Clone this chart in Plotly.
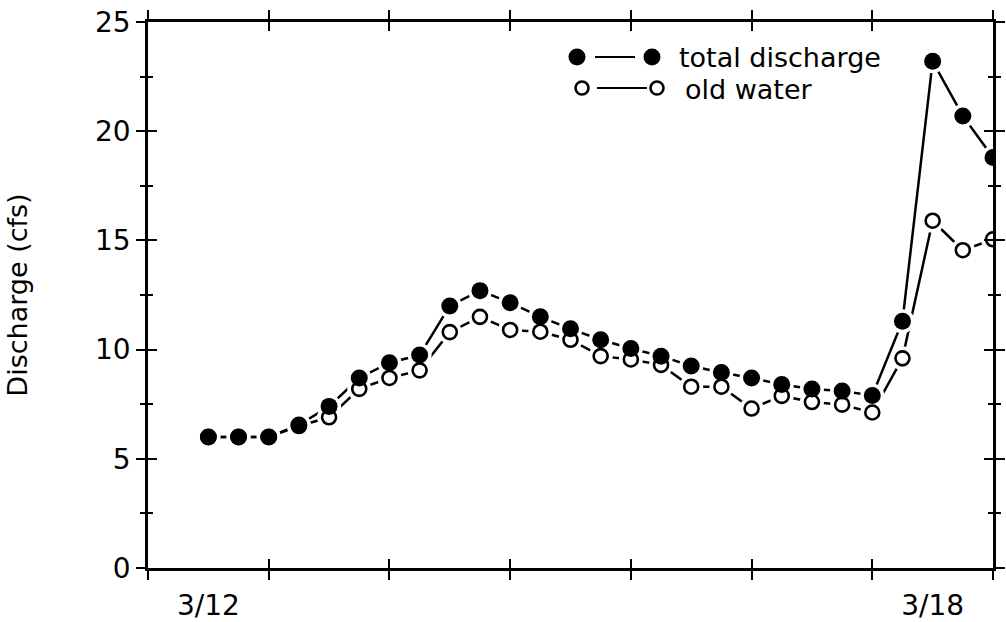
import plotly.graph_objects as go

# hours since 3/12 00:00 (samples every 6 h)
hours = [12, 18, 24, 30, 36, 42, 48, 54, 60, 66, 72, 78, 84, 90, 96, 102, 108,
         114, 120, 126, 132, 138, 144, 150, 156, 162, 168]
total_discharge = [6.0, 6.0, 6.0, 6.55, 7.4, 8.7, 9.4, 9.75, 12.0, 12.7, 12.15,
                   11.5, 10.95, 10.45, 10.05, 9.7, 9.25, 8.95, 8.7, 8.4, 8.2,
                   8.1, 7.9, 11.3, 23.2, 20.7, 18.8]
old_water = [6.0, 6.0, 6.0, 6.5, 6.9, 8.2, 8.7, 9.05, 10.8, 11.5, 10.9, 10.82,
             10.45, 9.7, 9.55, 9.3, 8.3, 8.3, 7.3, 7.88, 7.6, 7.48, 7.12, 9.6,
             15.9, 14.55, 15.05]
day_ticks = [0, 24, 48, 72, 96, 120, 144, 168]
label_pos = [12, 156]
label_text = ["3/12", "3/18"]
y_major = [0, 5, 10, 15, 20, 25]

FONT = "DejaVu Sans"
X_RANGE = [0, 168]
Y_RANGE = [0, 25]

fig = go.Figure()

# lines (base subplot)
fig.add_trace(go.Scatter(x=hours, y=total_discharge, mode="lines",
                         line=dict(color="black", width=2.5),
                         xaxis="x", yaxis="y", hoverinfo="skip", showlegend=False))
fig.add_trace(go.Scatter(x=hours, y=old_water, mode="lines",
                         line=dict(color="black", width=2.5),
                         xaxis="x", yaxis="y", hoverinfo="skip", showlegend=False))
# white halos that break the lines near markers (overlay subplot)
for series in (old_water, total_discharge):
    fig.add_trace(go.Scatter(x=hours, y=series, mode="markers",
                             marker=dict(color="white", size=24, line=dict(width=0)),
                             xaxis="x2", yaxis="y2", hoverinfo="skip", showlegend=False))
fig.add_trace(go.Scatter(x=hours, y=old_water, mode="markers", name="old water",
                         marker=dict(color="white", size=14, symbol="circle",
                                     line=dict(color="black", width=2.6)),
                         xaxis="x2", yaxis="y2", showlegend=False))
fig.add_trace(go.Scatter(x=hours, y=total_discharge, mode="markers", name="total discharge",
                         marker=dict(color="black", size=17, symbol="circle",
                                     line=dict(width=0)),
                         xaxis="x2", yaxis="y2", showlegend=False))
# invisible trace to carry the label axis
fig.add_trace(go.Scatter(x=hours, y=total_discharge, mode="markers",
                         marker=dict(opacity=0), xaxis="x3", yaxis="y2",
                         hoverinfo="skip", showlegend=False))

axis_common = dict(showline=True, linecolor="black", linewidth=2.5,
                   showgrid=False, zeroline=False, tickcolor="black",
                   tickwidth=2.2, mirror="ticks", automargin=False)

fig.update_layout(
    width=1006, height=622,
    margin=dict(l=148, r=13, t=22, b=54, autoexpand=False),
    paper_bgcolor="white", plot_bgcolor="white",
    font=dict(family=FONT, size=28, color="black"),
    xaxis=dict(range=X_RANGE, tickmode="array", tickvals=day_ticks,
               ticks="outside", ticklen=9, showticklabels=False, **axis_common),
    yaxis=dict(range=Y_RANGE, tickmode="array", tickvals=y_major,
               ticks="outside", ticklen=9, showticklabels=True,
               tickfont=dict(family=FONT, size=28),
               minor=dict(dtick=2.5, ticks="outside", ticklen=5,
                          tickcolor="black", tickwidth=2.2),
               title=dict(text="Discharge (cfs)", font=dict(family=FONT, size=27),
                          standoff=60),
               **axis_common),
    xaxis2=dict(range=X_RANGE, overlaying="x", anchor="y2", tickmode="array",
                tickvals=day_ticks, ticks="inside", ticklen=9,
                showticklabels=False, **axis_common),
    yaxis2=dict(range=Y_RANGE, overlaying="y", anchor="x2", tickmode="array",
                tickvals=y_major, ticks="inside", ticklen=9,
                showticklabels=False,
                minor=dict(dtick=2.5, ticks="inside", ticklen=5,
                           tickcolor="black", tickwidth=2.2),
                **axis_common),
    xaxis3=dict(range=X_RANGE, overlaying="x", anchor="y2", tickmode="array",
                tickvals=label_pos, ticktext=label_text, ticks="outside",
                ticklen=12, tickcolor="rgba(0,0,0,0)", showline=False,
                showgrid=False, zeroline=False, automargin=False,
                tickfont=dict(family=FONT, size=28)),
)

# custom legend (paper coordinates)
def px_x(px):
    return (px - 148) / 845

def px_y(py):
    return (568 - py) / 546

legend_rows = [
    dict(y=57, c1=577, c2=652, l0=595, l1=635, tx=677, text="total discharge",
         filled=True, r=8.5),
    dict(y=88, c1=582, c2=657, l0=597, l1=647, tx=683, text="old water",
         filled=False, r=6.5),
]
for row in legend_rows:
    yy = px_y(row["y"])
    fig.add_shape(type="line", xref="paper", yref="paper",
                  x0=px_x(row["l0"]), x1=px_x(row["l1"]), y0=yy, y1=yy,
                  line=dict(color="black", width=2.2))
    for cx in (row["c1"], row["c2"]):
        r = row["r"]
        fig.add_shape(type="circle", xref="paper", yref="paper",
                      xsizemode="pixel", ysizemode="pixel",
                      xanchor=px_x(cx), yanchor=yy,
                      x0=-r, x1=r, y0=-r, y1=r,
                      fillcolor="black" if row["filled"] else "white",
                      line=dict(color="black", width=0 if row["filled"] else 2.6))
    fig.add_annotation(xref="paper", yref="paper", x=px_x(row["tx"]), y=px_y(row["y"] + 1),
                       text=row["text"], showarrow=False, xanchor="left",
                       yanchor="middle", font=dict(family=FONT, size=27, color="black"))

fig.write_html("out.html")
